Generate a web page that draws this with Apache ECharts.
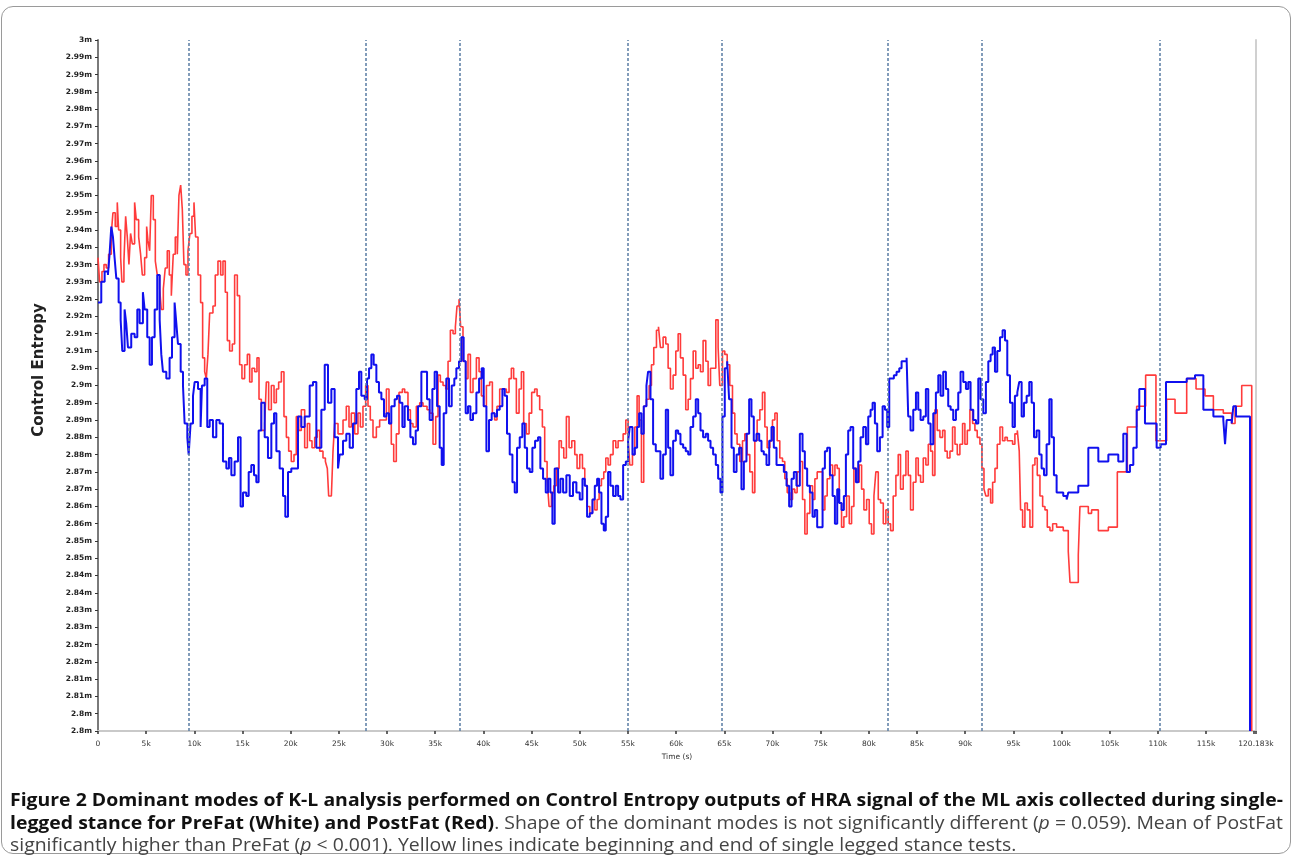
<!DOCTYPE html>
<html>
<head>
<meta charset="utf-8">
<title>Figure 2</title>
<script src="https://cdn.jsdelivr.net/npm/echarts@6/dist/echarts.min.js"></script>
<style>
  html, body { margin: 0; padding: 0; background: #fff; }
  #wrap { position: relative; width: 1293px; height: 856px; overflow: hidden; }
  #frame { position: absolute; left: 1px; top: 6px; width: 1288px; height: 846px;
           border: 1.5px solid #9a9a9a; border-radius: 12px; }
  #main { position: absolute; left: 0; top: 0; width: 1293px; height: 856px; }
  #caption { position: absolute; left: 10px; top: 788px; width: 1273px;
             font-family: "Open Sans", "Noto Sans", sans-serif;
             font-size: 18px; line-height: 22.5px; color: #444;
             transform-origin: 0 0; }
  #caption .ln span { white-space: nowrap; }
  #caption .ln.just { text-align: justify; text-align-last: justify; }
  #caption .ln.just span { white-space: normal; }
  #caption b { color: #111; font-weight: 700; }
</style>
</head>
<body>
<div id="wrap">
  <div id="frame"></div>
  <div id="main"></div>
  <div id="caption">
    <div class="ln" id="cap1"><span><b>Figure 2 Dominant modes of K-L analysis performed on Control Entropy outputs of HRA signal of the ML axis collected during single-</b></span></div>
    <div class="ln" id="cap2"><span><b>legged stance for PreFat (White) and PostFat (Red)</b>. Shape of the dominant modes is not significantly different (<i>p</i> = 0.059). Mean of PostFat</span></div>
    <div class="ln" id="cap3"><span>significantly higher than PreFat (<i>p</i> &lt; 0.001). Yellow lines indicate beginning and end of single legged stance tests.</span></div>
  </div>
</div>
<script>
// time in k seconds, control entropy values
var preFat = [
  [0,2.924],[0.34,2.930],[0.69,2.933],[1.03,2.932],[1.20,2.938],[1.38,2.946],[1.55,2.943],[1.72,2.937],[1.90,2.931],[2.14,2.924],
  [2.35,2.919],[2.52,2.910],[2.76,2.922],[2.93,2.918],[3.11,2.911],[3.45,2.915],[3.80,2.914],[4.08,2.922],[4.32,2.918],[4.66,2.927],
  [4.84,2.922],[5.11,2.914],[5.36,2.906],[5.60,2.914],[5.88,2.922],[6.15,2.932],[6.40,2.919],[6.57,2.909],[6.74,2.904],[7.09,2.902],
  [7.43,2.908],[7.68,2.914],[7.95,2.924],[8.13,2.918],[8.30,2.912],[8.58,2.904],[8.82,2.900],[8.99,2.889],[9.27,2.885],[9.41,2.880],
  [9.61,2.889],[9.86,2.897],[10.03,2.901],[10.38,2.899],[10.65,2.888],[10.79,2.900],[11.07,2.902],[11.34,2.888],[11.59,2.890],[11.93,2.885],
  [12.28,2.890],[12.62,2.889],[12.97,2.878],[13.32,2.876],[13.59,2.879],[13.84,2.874],[14.18,2.878],[14.53,2.885],[14.80,2.865],[15.05,2.869],
  [15.39,2.868],[15.64,2.875],[15.91,2.877],[16.19,2.874],[16.43,2.872],[16.67,2.887],[16.95,2.895],[17.30,2.885],[17.64,2.879],[17.99,2.889],
  [18.27,2.892],[18.51,2.881],[18.85,2.876],[19.20,2.868],[19.44,2.862],[19.72,2.875],[20.06,2.876],[20.41,2.876],[20.76,2.891],[21.10,2.888],
  [21.45,2.891],[21.97,2.900],[22.31,2.901],[22.66,2.882],[23.18,2.893],[23.53,2.906],[23.87,2.895],[24.22,2.899],[24.56,2.885],[24.91,2.876],
  [25.08,2.880],[25.43,2.884],[25.77,2.886],[26.12,2.882],[26.46,2.889],[26.81,2.899],[27.09,2.904],[27.33,2.897],[27.68,2.896],[27.92,2.902],
  [28.13,2.905],[28.37,2.909],[28.61,2.906],[28.89,2.901],[29.16,2.898],[29.41,2.896],[29.68,2.891],[29.93,2.892],[30.20,2.889],[30.44,2.894],
  [30.79,2.896],[31.03,2.897],[31.31,2.895],[31.59,2.888],[31.83,2.894],[32.17,2.890],[32.42,2.885],[32.69,2.883],[32.97,2.887],[33.21,2.894],
  [33.56,2.904],[33.90,2.904],[34.15,2.896],[34.42,2.890],[34.70,2.899],[34.94,2.904],[35.19,2.894],[35.46,2.882],[35.67,2.877],[35.88,2.892],
  [36.15,2.902],[36.43,2.894],[36.71,2.900],[36.98,2.902],[37.19,2.905],[37.47,2.907],[37.71,2.914],[37.95,2.907],[38.16,2.892],[38.40,2.894],
  [38.65,2.890],[38.92,2.892],[39.27,2.898],[39.55,2.902],[39.82,2.905],[40.03,2.894],[40.31,2.881],[40.58,2.890],[40.86,2.892],[41.17,2.891],
  [41.41,2.893],[41.69,2.894],[41.97,2.899],[42.21,2.897],[42.45,2.886],[42.73,2.880],[43.01,2.872],[43.25,2.869],[43.49,2.882],[43.77,2.885],
  [44.04,2.889],[44.29,2.882],[44.53,2.876],[44.81,2.875],[45.08,2.882],[45.36,2.884],[45.67,2.885],[45.91,2.876],[46.19,2.873],[46.47,2.869],
  [46.71,2.873],[46.95,2.869],[47.16,2.860],[47.40,2.876],[47.75,2.869],[47.99,2.873],[48.27,2.869],[48.61,2.874],[48.96,2.868],[49.30,2.872],
  [49.65,2.869],[50.00,2.867],[50.28,2.873],[50.52,2.871],[50.76,2.862],[51.04,2.863],[51.32,2.867],[51.56,2.871],[51.80,2.873],[52.01,2.869],
  [52.25,2.860],[52.49,2.858],[52.70,2.862],[52.94,2.875],[53.18,2.871],[53.46,2.868],[53.74,2.871],[53.98,2.868],[54.22,2.867],[54.50,2.877],
  [54.78,2.878],[55.02,2.884],[55.19,2.888],[55.47,2.880],[55.71,2.882],[55.95,2.888],[56.16,2.892],[56.40,2.886],[56.64,2.894],[56.92,2.900],
  [57.09,2.904],[57.34,2.896],[57.61,2.883],[57.89,2.881],[58.13,2.881],[58.37,2.873],[58.65,2.880],[58.93,2.893],[59.17,2.882],[59.41,2.874],
  [59.69,2.884],[59.97,2.887],[60.21,2.886],[60.45,2.883],[60.73,2.882],[61.00,2.881],[61.25,2.880],[61.49,2.888],[61.77,2.891],[62.04,2.896],
  [62.29,2.892],[62.53,2.887],[62.80,2.885],[63.08,2.886],[63.32,2.884],[63.57,2.882],[63.84,2.880],[64.12,2.877],[64.36,2.873],[64.60,2.869],
  [64.81,2.891],[65.05,2.905],[65.30,2.907],[65.50,2.896],[65.75,2.882],[65.99,2.875],[66.27,2.880],[66.54,2.882],[66.78,2.870],[67.03,2.878],
  [67.30,2.886],[67.58,2.896],[67.82,2.891],[68.06,2.884],[68.34,2.886],[68.62,2.884],[68.86,2.881],[69.10,2.880],[69.38,2.877],[69.66,2.884],
  [69.90,2.888],[70.14,2.882],[70.42,2.877],[70.69,2.877],[70.94,2.877],[71.18,2.875],[71.46,2.871],[71.73,2.865],[71.98,2.873],[72.22,2.875],
  [72.49,2.871],[72.84,2.886],[73.12,2.881],[73.36,2.876],[73.60,2.871],[73.88,2.869],[74.16,2.862],[74.40,2.864],[74.64,2.859],[75.20,2.876],
  [75.44,2.881],[75.68,2.882],[75.96,2.874],[76.24,2.868],[76.48,2.860],[76.72,2.870],[76.93,2.866],[77.17,2.864],[77.41,2.868],[77.62,2.880],
  [77.86,2.887],[78.10,2.888],[78.38,2.876],[78.66,2.872],[78.90,2.878],[79.14,2.885],[79.42,2.888],[79.70,2.883],[79.94,2.891],[80.18,2.893],
  [80.39,2.895],[80.63,2.889],[80.87,2.881],[81.15,2.885],[81.43,2.894],[81.67,2.893],[81.91,2.888],[82.12,2.902],[82.36,2.902],[82.60,2.903],
  [82.88,2.904],[83.16,2.905],[83.40,2.907],[83.64,2.907],[83.92,2.908],[84.09,2.891],[84.33,2.887],[84.61,2.893],[84.89,2.898],[85.13,2.893],
  [85.37,2.890],[85.65,2.891],[85.92,2.899],[86.17,2.889],[86.41,2.883],[86.69,2.892],[86.96,2.898],[87.21,2.903],[87.45,2.897],[87.72,2.904],
  [88.00,2.899],[88.24,2.894],[88.49,2.893],[88.76,2.890],[89.04,2.893],[89.28,2.898],[89.52,2.904],[89.80,2.901],[90.08,2.899],[90.32,2.901],
  [90.56,2.893],[90.84,2.890],[91.12,2.889],[91.36,2.902],[91.60,2.896],[91.88,2.892],[92.15,2.901],[92.40,2.907],[92.64,2.909],[92.85,2.911],
  [93.09,2.904],[93.33,2.910],[93.61,2.914],[93.88,2.916],[94.13,2.913],[94.37,2.903],[94.65,2.895],[94.92,2.888],[95.16,2.897],[95.41,2.898],
  [95.61,2.901],[95.86,2.891],[96.10,2.895],[96.38,2.897],[96.65,2.901],[96.90,2.895],[97.14,2.885],[97.41,2.887],[97.69,2.880],[97.93,2.876],
  [98.18,2.874],[98.45,2.883],[98.73,2.896],[98.97,2.885],[99.21,2.874],[99.49,2.869],[99.84,2.869],[100.18,2.868],[100.53,2.867],[100.70,2.869],
  [101.74,2.871],[102.78,2.882],[103.82,2.878],[104.86,2.880],[105.89,2.878],[106.41,2.886],[106.76,2.875],[107.10,2.877],[107.45,2.882],[107.80,2.893],
  [108.07,2.899],[108.66,2.889],[109.87,2.882],[110.29,2.883],[110.84,2.901],[112.99,2.902],[113.85,2.903],[114.72,2.893],[115.76,2.891],[116.79,2.890],
  [116.97,2.883],[117.14,2.890],[117.66,2.889],[117.83,2.894],[118.11,2.891],[119.56,2.800]
];

var postFat = [
  [0,2.937],[0.17,2.930],[0.41,2.933],[0.62,2.935],[0.86,2.934],[1.10,2.938],[1.38,2.944],[1.55,2.950],[1.79,2.946],[2.00,2.953],
  [2.14,2.945],[2.35,2.937],[2.48,2.930],[2.69,2.936],[2.87,2.949],[3.04,2.943],[3.21,2.935],[3.38,2.944],[3.56,2.941],[3.80,2.953],
  [3.97,2.948],[4.22,2.943],[4.42,2.938],[4.60,2.932],[4.84,2.937],[5.05,2.946],[5.18,2.942],[5.36,2.939],[5.53,2.955],[5.74,2.948],
  [5.95,2.936],[6.15,2.932],[6.40,2.928],[6.57,2.922],[6.78,2.928],[6.98,2.934],[7.19,2.939],[7.40,2.932],[7.61,2.926],[7.81,2.938],
  [8.02,2.943],[8.23,2.938],[8.40,2.955],[8.58,2.958],[8.75,2.951],[8.92,2.935],[9.13,2.932],[9.34,2.939],[9.54,2.944],[9.75,2.949],
  [9.96,2.953],[10.13,2.943],[10.38,2.932],[10.65,2.924],[10.86,2.908],[11.07,2.904],[11.24,2.902],[11.41,2.909],[11.59,2.921],[11.93,2.923],
  [12.17,2.932],[12.45,2.936],[12.73,2.932],[12.97,2.936],[13.21,2.927],[13.42,2.913],[13.66,2.910],[13.94,2.912],[14.18,2.932],[14.46,2.926],
  [14.70,2.906],[14.94,2.902],[15.22,2.906],[15.50,2.909],[15.74,2.901],[15.98,2.905],[16.26,2.904],[16.50,2.908],[16.71,2.896],[16.95,2.887],
  [17.30,2.889],[17.47,2.901],[17.71,2.893],[17.99,2.900],[18.27,2.895],[18.51,2.899],[18.75,2.901],[19.03,2.904],[19.30,2.891],[19.55,2.885],
  [19.79,2.881],[20.06,2.878],[20.34,2.880],[20.58,2.891],[20.83,2.887],[21.10,2.893],[21.45,2.882],[21.73,2.889],[21.97,2.884],[22.21,2.882],
  [22.49,2.885],[22.76,2.887],[23.01,2.881],[23.35,2.879],[23.60,2.878],[23.80,2.876],[23.94,2.868],[24.22,2.868],[24.39,2.881],[24.56,2.889],
  [24.91,2.886],[25.08,2.886],[25.43,2.890],[25.77,2.894],[26.05,2.888],[26.29,2.892],[26.64,2.886],[26.98,2.892],[27.23,2.888],[27.50,2.894],
  [27.78,2.900],[28.02,2.894],[28.26,2.890],[28.54,2.885],[28.89,2.888],[29.23,2.890],[29.58,2.890],[29.93,2.899],[30.20,2.889],[30.44,2.883],
  [30.69,2.878],[30.96,2.886],[31.24,2.898],[31.59,2.899],[31.83,2.898],[32.17,2.893],[32.42,2.889],[32.69,2.888],[33.04,2.894],[33.39,2.895],
  [33.73,2.894],[34.15,2.893],[34.42,2.892],[34.77,2.883],[35.05,2.891],[35.29,2.903],[35.53,2.901],[35.81,2.900],[36.09,2.899],[36.33,2.907],
  [36.57,2.916],[36.85,2.915],[37.09,2.917],[37.26,2.923],[37.47,2.925],[37.64,2.917],[37.88,2.907],[38.16,2.902],[38.40,2.909],[38.65,2.898],
  [38.92,2.902],[39.27,2.908],[39.55,2.904],[39.79,2.897],[40.03,2.894],[40.31,2.900],[40.65,2.901],[40.93,2.892],[41.17,2.890],[41.41,2.894],
  [41.69,2.899],[42.04,2.899],[42.38,2.898],[42.66,2.902],[42.90,2.905],[43.14,2.902],[43.42,2.892],[43.70,2.899],[43.94,2.904],[44.18,2.889],
  [44.46,2.886],[44.74,2.892],[45.01,2.898],[45.32,2.899],[45.57,2.897],[45.84,2.893],[46.12,2.888],[46.36,2.878],[46.61,2.873],[46.81,2.865],
  [47.06,2.869],[47.30,2.871],[47.57,2.876],[47.85,2.884],[48.09,2.882],[48.34,2.879],[48.61,2.891],[48.89,2.882],[49.17,2.884],[49.48,2.880],
  [49.72,2.876],[50.00,2.880],[50.28,2.876],[50.52,2.871],[50.76,2.865],[51.04,2.863],[51.32,2.867],[51.56,2.864],[51.80,2.867],[52.01,2.871],
  [52.25,2.873],[52.49,2.875],[52.70,2.879],[52.94,2.877],[53.18,2.880],[53.46,2.884],[53.74,2.882],[53.98,2.884],[54.22,2.884],[54.50,2.886],
  [54.78,2.890],[55.02,2.884],[55.19,2.877],[55.47,2.880],[55.71,2.888],[55.95,2.897],[56.16,2.890],[56.40,2.872],[56.64,2.894],[56.92,2.896],
  [57.20,2.900],[57.44,2.906],[57.68,2.911],[57.96,2.916],[58.17,2.917],[58.37,2.911],[58.65,2.914],[58.93,2.912],[59.17,2.905],[59.41,2.899],
  [59.69,2.903],[59.97,2.910],[60.21,2.915],[60.45,2.908],[60.73,2.903],[61.00,2.893],[61.25,2.896],[61.49,2.902],[61.77,2.910],[62.04,2.905],
  [62.29,2.906],[62.53,2.904],[62.80,2.913],[63.08,2.907],[63.32,2.900],[63.57,2.905],[63.84,2.905],[64.12,2.919],[64.36,2.911],[64.53,2.900],
  [64.81,2.910],[65.05,2.909],[65.30,2.906],[65.57,2.900],[65.85,2.892],[66.09,2.886],[66.33,2.883],[66.61,2.878],[66.89,2.884],[67.13,2.886],
  [67.37,2.880],[67.65,2.875],[67.93,2.869],[68.17,2.884],[68.41,2.890],[68.69,2.893],[68.96,2.898],[69.21,2.888],[69.45,2.882],[69.73,2.884],
  [70.00,2.890],[70.25,2.892],[70.49,2.884],[70.76,2.879],[71.04,2.878],[71.28,2.873],[71.53,2.869],[71.80,2.867],[72.08,2.870],[72.32,2.869],
  [72.56,2.875],[72.84,2.878],[73.12,2.867],[73.36,2.857],[73.60,2.863],[73.88,2.871],[74.16,2.867],[74.40,2.873],[74.64,2.875],[75.20,2.864],
  [75.44,2.868],[75.68,2.873],[75.96,2.877],[76.24,2.874],[76.48,2.877],[76.72,2.876],[76.93,2.866],[77.17,2.859],[77.41,2.862],[77.69,2.868],
  [77.97,2.860],[78.21,2.865],[78.45,2.876],[78.73,2.872],[79.00,2.877],[79.25,2.870],[79.49,2.864],[79.77,2.867],[80.04,2.860],[80.28,2.857],
  [80.53,2.868],[80.73,2.875],[80.98,2.867],[81.22,2.866],[81.50,2.860],[81.77,2.864],[82.01,2.860],[82.26,2.858],[82.53,2.868],[82.81,2.874],
  [83.05,2.880],[83.29,2.870],[83.57,2.874],[83.85,2.881],[84.09,2.874],[84.33,2.864],[84.61,2.872],[84.89,2.879],[85.13,2.874],[85.37,2.872],
  [85.65,2.879],[85.92,2.877],[86.17,2.883],[86.41,2.881],[86.62,2.874],[86.86,2.893],[87.10,2.887],[87.38,2.885],[87.66,2.887],[87.90,2.881],
  [88.14,2.879],[88.42,2.881],[88.69,2.888],[88.94,2.883],[89.18,2.880],[89.45,2.883],[89.73,2.889],[89.97,2.883],[90.22,2.887],[90.49,2.893],
  [90.77,2.889],[91.01,2.887],[91.25,2.885],[91.53,2.883],[91.74,2.876],[91.95,2.870],[92.15,2.868],[92.40,2.870],[92.64,2.866],[92.85,2.872],
  [93.09,2.876],[93.33,2.883],[93.61,2.888],[93.88,2.884],[94.13,2.885],[94.37,2.884],[94.65,2.884],[94.92,2.883],[95.16,2.886],[95.41,2.887],
  [95.61,2.881],[95.75,2.864],[95.96,2.859],[96.20,2.866],[96.45,2.864],[96.72,2.859],[97.00,2.877],[97.24,2.879],[97.48,2.874],[97.76,2.868],
  [98.04,2.865],[98.28,2.864],[98.52,2.859],[98.80,2.858],[99.08,2.860],[99.49,2.859],[99.84,2.859],[100.18,2.858],[100.70,2.852],[100.88,2.843],
  [101.74,2.851],[101.91,2.865],[102.78,2.863],[103.12,2.864],[103.82,2.858],[104.86,2.859],[105.79,2.875],[106.83,2.888],[107.80,2.894],[108.73,2.903],
  [109.80,2.884],[110.91,2.896],[111.78,2.892],[112.99,2.902],[113.96,2.899],[114.89,2.897],[115.76,2.893],[116.79,2.892],[117.66,2.889],[118.01,2.894],
  [118.70,2.900],[119.74,2.800]
];

// dashed markers for start / end of single legged stance
var stanceLines = [9.38, 27.81, 37.59, 54.95, 64.76, 81.98, 91.76, 110.22];

var timeMax = 120.183;
var yMin = 2.8, yMax = 3.0, yStep = 0.005;

var myChart = echarts.init(document.getElementById('main'));

function yLabel(v) {
    // labels are truncated to two decimals, like the original software did
    var t = Math.floor(v * 100 + 1e-6) / 100;
    return String(t) + 'm';
}
function xLabel(v) {
    if (v === 0) return '0';
    if (Math.abs(v - 120) < 1e-9) return '';
    return String(Math.round(v * 1000) / 1000) + 'k';
}

var option = {
    animation: false,
    backgroundColor: 'transparent',
    grid: { left: 98, right: 37, top: 40, bottom: 125, containLabel: false },
    xAxis: {
        type: 'value',
        min: 0,
        max: timeMax,
        interval: 5,
        name: 'Time (s)',
        nameLocation: 'middle',
        nameGap: 21,
        nameTextStyle: { fontSize: 7.5, color: '#333', fontFamily: 'DejaVu Sans' },
        axisLine: { show: true, lineStyle: { color: '#c9c9c9', width: 2 } },
        axisTick: { show: true, inside: false, length: 3, lineStyle: { color: '#333', width: 1.5 } },
        axisLabel: { formatter: xLabel, fontSize: 7.5, color: '#333', fontFamily: 'DejaVu Sans', margin: 9 },
        splitLine: { show: false }
    },
    yAxis: [{
        type: 'value',
        min: yMin,
        max: yMax,
        interval: yStep,
        name: 'Control Entropy',
        nameLocation: 'middle',
        nameGap: 51,
        nameTextStyle: { fontSize: 15, fontWeight: 'bold', color: '#222', fontFamily: 'DejaVu Sans', padding: [0, 0, 0, 31] },
        axisLine: { show: true, lineStyle: { color: '#7a7a7a', width: 2 } },
        axisTick: { show: true, length: 3, lineStyle: { color: '#333', width: 1 } },
        axisLabel: { formatter: yLabel, fontSize: 7.5, color: '#222', fontWeight: 'bold', fontFamily: 'DejaVu Sans', margin: 6 },
        splitLine: { show: false }
    }, {
        type: 'value',
        position: 'right',
        min: yMin,
        max: yMax,
        axisLine: { show: true, lineStyle: { color: '#d0d0d0', width: 2 } },
        axisTick: { show: false },
        axisLabel: { show: false },
        splitLine: { show: false }
    }],
    series: [{
        name: 'PostFat',
        type: 'line',
        step: 'end',
        showSymbol: false,
        data: postFat,
        lineStyle: { color: '#ff3b3b', width: 1.6 },
        z: 2
    }, {
        name: 'PreFat',
        type: 'line',
        step: 'end',
        showSymbol: false,
        data: preFat,
        lineStyle: { color: '#1010ee', width: 2 },
        z: 3,
        markLine: {
            silent: true,
            symbol: ['none', 'none'],
            label: { show: false },
            lineStyle: { type: [3, 2], color: '#5a7ca4', width: 1.5 },
            data: stanceLines.map(function (t) { return { xAxis: t }; })
        }
    }]
};

myChart.setOption(option);

// caption: squeeze so the last line ends where it does in the figure, then justify lines 1-2
(function () {
    var cap = document.getElementById('caption');
    var w1 = document.querySelector('#cap1 span').getBoundingClientRect().width;
    var w2 = document.querySelector('#cap2 span').getBoundingClientRect().width;
    var w3 = document.querySelector('#cap3 span').getBoundingClientRect().width;
    var full = 1273;
    var s = Math.min(1045 / w3, full / w1, full / w2);
    cap.style.width = (full / s) + 'px';
    cap.style.transform = 'scaleX(' + s + ')';
    document.getElementById('cap1').className = 'ln just';
    document.getElementById('cap2').className = 'ln just';
})();
</script>
</body>
</html>
